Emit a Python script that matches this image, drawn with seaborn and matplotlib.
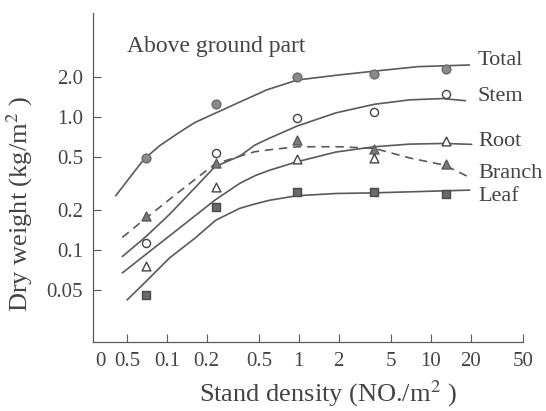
import matplotlib
matplotlib.use("Agg")
import matplotlib.pyplot as plt
import pandas as pd
import seaborn as sns
from matplotlib.ticker import NullLocator

# observed densities (NO./m^2)
obs_density = [0.07, 0.235, 0.97, 3.7, 13.0]

# observed dry weights (kg/m^2)
total_obs = [0.49, 1.24, 2.0, 2.09, 2.28]
stem_obs = [0.112, 0.536, 0.983, 1.08, 1.47]
branch_obs = [0.180, 0.451, 0.668, 0.569, 0.439]
root_obs = [0.0758, 0.298, 0.478, 0.492, 0.661]
leaf_obs = [0.046, 0.211, 0.270, 0.273, 0.261]

# fitted curves
total_x = [0.041, 0.0525, 0.067, 0.0885, 0.122, 0.163, 0.231, 0.357, 0.464, 0.569, 0.977, 2.0, 3.7, 8.0, 19.6]
total_y = [0.255, 0.350, 0.479, 0.607, 0.754, 0.905, 1.06, 1.29, 1.45, 1.59, 1.89, 2.06, 2.2, 2.38, 2.45]

stem_x = [0.046, 0.069, 0.105, 0.157, 0.231, 0.357, 0.464, 0.603, 0.97, 1.91, 3.72, 6.93, 12.3, 18.3]
stem_y = [0.089, 0.125, 0.185, 0.281, 0.421, 0.506, 0.612, 0.692, 0.851, 1.07, 1.24, 1.34, 1.37, 1.32]

root_x = [0.046, 0.069, 0.125, 0.231, 0.357, 0.464, 0.603, 0.97, 1.91, 3.72, 6.93, 12.7, 20.4]
root_y = [0.067, 0.092, 0.146, 0.236, 0.316, 0.36, 0.397, 0.459, 0.543, 0.595, 0.623, 0.63, 0.62]

leaf_x = [0.050, 0.071, 0.105, 0.163, 0.235, 0.357, 0.464, 0.603, 0.97, 1.91, 3.72, 19.7]
leaf_y = [0.042, 0.059, 0.087, 0.122, 0.167, 0.205, 0.221, 0.236, 0.255, 0.265, 0.268, 0.281]

branch_x = [0.046, 0.069, 0.125, 0.231, 0.357, 0.464, 0.603, 0.97, 2.04, 3.72, 6.93, 12.7, 20.4]
branch_y = [0.124, 0.172, 0.275, 0.441, 0.506, 0.546, 0.565, 0.595, 0.595, 0.579, 0.49, 0.433, 0.344]

x_ticks = [0.05, 0.1, 0.2, 0.5, 1, 2, 5, 10, 20, 50]
x_tick_labels = ["0.5", "0.1", "0.2", "0.5", "1", "2", "5", "10", "20", "50"]
y_ticks = [0.05, 0.1, 0.2, 0.5, 1, 2]
y_tick_labels = ["0.05", "0.1", "0.2", "0.5", "1.0", "2.0"]

ink = "#444444"
line_col = "#5a5a5a"

sns.set_theme(style="ticks")
plt.rcParams["font.family"] = ["Liberation Serif", "DejaVu Serif"]
plt.rcParams["mathtext.fontset"] = "stix"
plt.rcParams["text.color"] = ink
plt.rcParams["axes.labelcolor"] = ink

fig = plt.figure(figsize=(5.46, 4.11), dpi=100)
ax = fig.add_axes([0.170, 0.168, 0.788, 0.801])

curves = [
    ("Total", total_x, total_y, "-"),
    ("Stem", stem_x, stem_y, "-"),
    ("Root", root_x, root_y, "-"),
    ("Leaf", leaf_x, leaf_y, "-"),
    ("Branch", branch_x, branch_y, (0, (5, 3.5))),
]
for name, xs, ys, ls in curves:
    df = pd.DataFrame({"density": xs, "weight": ys})
    sns.lineplot(data=df, x="density", y="weight", ax=ax, color=line_col,
                 linewidth=1.2, linestyle=ls, estimator=None, sort=False)

points = [
    (total_obs, "o", "#8a8a8a", "#6a6a6a", 40),
    (stem_obs, "o", "white", "#444444", 34),
    (branch_obs, "^", "#7a7a7a", "#5a5a5a", 42),
    (root_obs, "^", "white", "#444444", 40),
    (leaf_obs, "s", "#6a6a6a", "#4a4a4a", 40),
]
for vals, mk, fc, ec, size in points:
    df = pd.DataFrame({"density": obs_density, "weight": vals})
    sns.scatterplot(data=df, x="density", y="weight", ax=ax, marker=mk,
                    color=fc, edgecolor=ec, linewidth=1.0, s=size, zorder=3)

ax.set_xscale("log")
ax.set_yscale("log")
ax.set_xlim(0.0275, 50)
ax.set_ylim(0.0203, 6.05)

ax.set_xticks(x_ticks, labels=x_tick_labels)
ax.set_yticks(y_ticks, labels=y_tick_labels)
ax.xaxis.set_minor_locator(NullLocator())
ax.yaxis.set_minor_locator(NullLocator())
ax.set_xticks([0.0316], labels=["0"], minor=True)
ax.tick_params(which="major", direction="in", length=6, width=0.8,
               color=line_col, labelsize=15, labelcolor=ink, pad=7)
ax.tick_params(which="minor", length=0, labelsize=15, labelcolor=ink, pad=7)

sns.despine(ax=ax)
for side in ("left", "bottom"):
    ax.spines[side].set_color(line_col)
    ax.spines[side].set_linewidth(0.9)

ax.set_xlabel("Stand density (NO./m$^{2}$ )", fontsize=19)
ax.set_ylabel("Dry weight (kg/m$^{2}$ )", fontsize=19)
ax.xaxis.set_label_coords(0.547, -0.11)
ax.yaxis.set_label_coords(-0.135, 0.42)

ax.text(0.079, 0.896, "Above ground part", transform=ax.transAxes,
        fontsize=17, va="center", ha="left")

label_pos = [("Total", 0.854), ("Stem", 0.747), ("Root", 0.608),
             ("Branch", 0.513), ("Leaf", 0.441)]
for name, yy in label_pos:
    ax.text(0.895, yy, name, transform=ax.transAxes, fontsize=16,
            va="center", ha="left", clip_on=False)

fig.savefig("out.png", dpi=100)
